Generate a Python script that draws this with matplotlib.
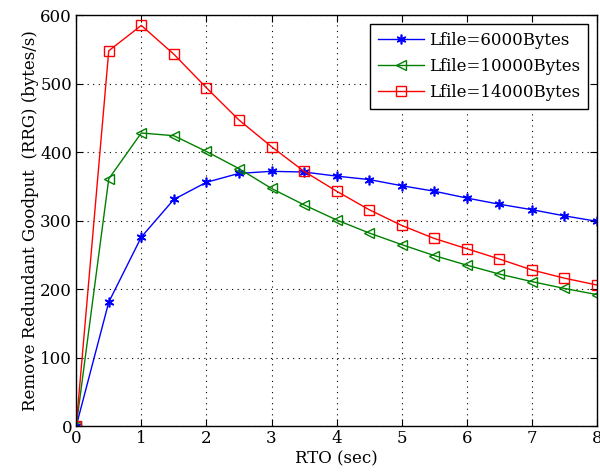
import numpy as np
import matplotlib
matplotlib.use("Agg")
import matplotlib.pyplot as plt

plt.rcParams['font.family'] = ['DejaVu Serif']

# RTO values (sec)
rto = [0, 0.5, 1, 1.5, 2, 2.5, 3, 3.5, 4, 4.5, 5, 5.5, 6, 6.5, 7, 7.5, 8]

# goodput (bytes/s) per file size
rrg_6000 = [0, 181, 276, 331, 356, 369, 372, 371, 365, 360, 351, 343, 333, 324, 316, 307, 299]
rrg_10000 = [0, 361, 428, 424, 401, 376, 347, 323, 301, 282, 265, 249, 235, 222, 211, 201, 192]
rrg_14000 = [0, 548, 585, 543, 494, 447, 408, 372, 343, 316, 293, 274, 259, 244, 228, 216, 206]

fig = plt.figure(figsize=(6, 4.74), dpi=100)
ax = fig.add_axes([0.127, 0.101, 0.868, 0.867])

# asterisk marker: 6 spokes
ax.plot(rto, rrg_6000, color='#0000ff', marker=(6, 2, 0), markersize=7, mew=1.2,
        lw=1, label='Lfile=6000Bytes')
ax.plot(rto, rrg_10000, color='#008000', marker='<', markersize=7, lw=1,
        mfc='none', label='Lfile=10000Bytes')
ax.plot(rto, rrg_14000, color='#ff0000', marker='s', markersize=7.5, lw=1,
        mfc='none', label='Lfile=14000Bytes')

ax.set_xlim(0, 8)
ax.set_ylim(0, 600)
ax.set_xticks(range(0, 9))
ax.set_yticks(range(0, 700, 100))
ax.grid(True, linestyle=(0, (1, 4)), color='black', lw=0.8)
ax.tick_params(direction='in', labelsize=12, length=5, top=True, right=True, pad=3)
for s in ax.spines.values():
    s.set_linewidth(1.0)

ax.set_xlabel('RTO (sec)', fontsize=12, labelpad=2)
ax.set_ylabel('Remove Redundant Goodput  (RRG) (bytes/s)', fontsize=12, labelpad=1)

leg = ax.legend(loc='upper right', fontsize=12, handlelength=2.8, fancybox=False,
                framealpha=1, edgecolor='black', borderpad=0.45, labelspacing=0.55,
                handletextpad=0.3, borderaxespad=0.55)
leg.get_frame().set_linewidth(1.0)

fig.savefig('out.png', dpi=100)
